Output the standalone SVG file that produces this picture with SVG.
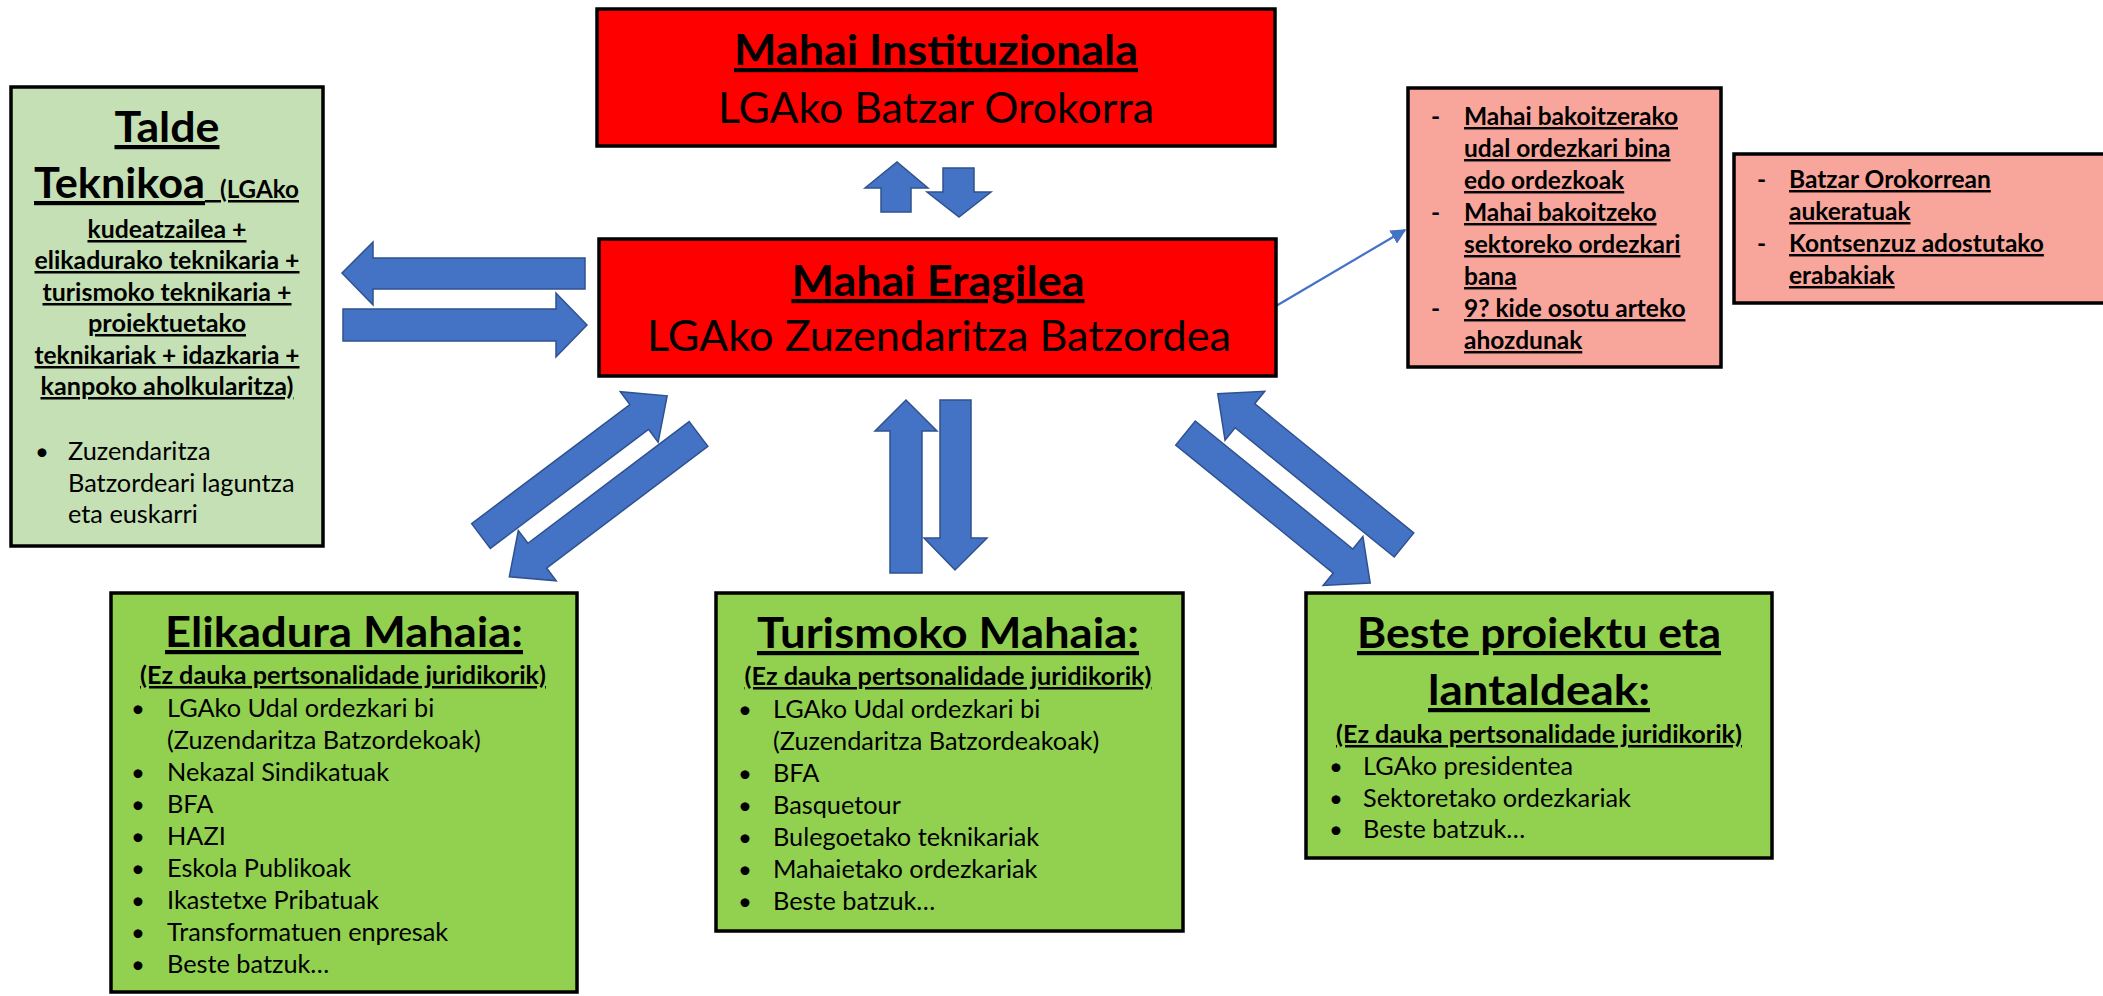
<svg xmlns="http://www.w3.org/2000/svg" width="2103" height="996" viewBox="0 0 2103 996">
<style>
.box{stroke:#000;stroke-width:3.5}
.red{fill:#FF0000}
.lg{fill:#C5E0B4}
.g{fill:#92D050}
.pk{fill:#F8A59B}
text{font-family:Lato,"Liberation Sans",sans-serif;fill:#000}
.h{font-weight:bold;font-size:42px;text-decoration:underline}
.r{font-size:42px}
.s{font-weight:bold;font-size:25px;text-decoration:underline}
.p{font-weight:bold;font-size:24.5px;text-decoration:underline}
.b{font-size:25.3px}
.dot{font-size:24px}
.arr{fill:#4472C4;stroke:#2F528F;stroke-width:1.5}
.thin{stroke:#4472C4;stroke-width:2.2;fill:none}
</style>
<defs>
<marker id="ah" viewBox="0 0 10 10" refX="9" refY="5" markerWidth="7" markerHeight="7" markerUnits="strokeWidth" orient="auto">
<path d="M0,0 L10,5 L0,10 z" fill="#4472C4"/>
</marker>
</defs>

<g id="connectors">
<polygon class="arr" points="585,258 373,258 373,242 342,273 373,305 373,289 585,289"/>
<polygon class="arr" points="343,309 556,309 556,293 587,325 556,357 556,341 343,341"/>
<polygon class="arr" points="881,212 881,188 865,188 897,162 928,188 911,188 911,212"/>
<polygon class="arr" points="943,168 974,168 974,192 991,192 959,217 927,192 943,192"/>
<polygon class="arr" points="890,573 890,431 875,431 906,400 937,431 922,431 922,573"/>
<polygon class="arr" points="940,400 971,400 971,538 987,538 955,570 924,538 940,538"/>
<polygon class="arr" transform="translate(481,536) rotate(-36.97)" points="0,-15.5 198,-15.5 198,-31.5 233,0 198,31.5 198,15.5 0,15.5"/>
<polygon class="arr" transform="translate(698.5,434) rotate(142.96)" points="0,-15.5 202,-15.5 202,-31.5 237,0 202,31.5 202,15.5 0,15.5"/>
<polygon class="arr" transform="translate(1185.5,433) rotate(39.1)" points="0,-15.5 203,-15.5 203,-31.5 238,0 203,31.5 203,15.5 0,15.5"/>
<polygon class="arr" transform="translate(1404,545) rotate(-140.9)" points="0,-15.5 205,-15.5 205,-31.5 240,0 205,31.5 205,15.5 0,15.5"/>
<path class="thin" d="M1276,306 L1405,230" marker-end="url(#ah)"/>
</g>

<g id="mahai-instituzionala">
<rect class="box red" x="597" y="9" width="678" height="137"/>
<text class="h" x="936" y="65" text-anchor="middle" textLength="404" lengthAdjust="spacingAndGlyphs">Mahai Instituzionala</text>
<text class="r" x="936" y="123" text-anchor="middle" textLength="436" lengthAdjust="spacingAndGlyphs">LGAko Batzar Orokorra</text>
</g>

<g id="mahai-eragilea">
<rect class="box red" x="599" y="239" width="677" height="137"/>
<text class="h" x="938" y="296" text-anchor="middle" textLength="293" lengthAdjust="spacingAndGlyphs">Mahai Eragilea</text>
<text class="r" x="939" y="351" text-anchor="middle" textLength="584" lengthAdjust="spacingAndGlyphs">LGAko Zuzendaritza Batzordea</text>
</g>

<g id="talde-teknikoa">
<rect class="box lg" x="11" y="87" width="312" height="459"/>
<text class="h" x="167" y="142" text-anchor="middle" textLength="105" lengthAdjust="spacingAndGlyphs">Talde</text>
<text x="34" y="198" style="text-decoration:underline;font-weight:bold"><tspan font-size="42" textLength="171" lengthAdjust="spacingAndGlyphs">Teknikoa</tspan><tspan font-size="25" textLength="15" lengthAdjust="spacingAndGlyphs"> </tspan><tspan font-size="25" textLength="79" lengthAdjust="spacingAndGlyphs">(LGAko</tspan></text>
<text class="s" x="167" y="238" text-anchor="middle" textLength="159" lengthAdjust="spacingAndGlyphs">kudeatzailea +</text>
<text class="s" x="167" y="269" text-anchor="middle" textLength="265" lengthAdjust="spacingAndGlyphs">elikadurako teknikaria +</text>
<text class="s" x="167" y="301" text-anchor="middle" textLength="249" lengthAdjust="spacingAndGlyphs">turismoko teknikaria +</text>
<text class="s" x="167" y="332" text-anchor="middle" textLength="158" lengthAdjust="spacingAndGlyphs">proiektuetako</text>
<text class="s" x="167" y="364" text-anchor="middle" textLength="265" lengthAdjust="spacingAndGlyphs">teknikariak + idazkaria +</text>
<text class="s" x="167" y="395" text-anchor="middle" textLength="253" lengthAdjust="spacingAndGlyphs">kanpoko aholkularitza)</text>
<text class="dot" x="35" y="460">•</text>
<text class="b" x="68" y="460">Zuzendaritza</text>
<text class="b" x="68" y="492">Batzordeari laguntza</text>
<text class="b" x="68" y="523">eta euskarri</text>
</g>

<g id="ordezkariak">
<rect class="box pk" x="1408" y="88" width="313" height="279"/>
<text class="p" x="1431" y="125" style="text-decoration:none">-</text>
<text class="p" x="1464" y="125">Mahai bakoitzerako</text>
<text class="p" x="1464" y="157">udal ordezkari bina</text>
<text class="p" x="1464" y="189">edo ordezkoak</text>
<text class="p" x="1431" y="221" style="text-decoration:none">-</text>
<text class="p" x="1464" y="221">Mahai bakoitzeko</text>
<text class="p" x="1464" y="253">sektoreko ordezkari</text>
<text class="p" x="1464" y="285">bana</text>
<text class="p" x="1431" y="317" style="text-decoration:none">-</text>
<text class="p" x="1464" y="317">9? kide osotu arteko</text>
<text class="p" x="1464" y="349">ahozdunak</text>
</g>

<g id="batzar-orokorra">
<rect class="box pk" x="1734" y="154" width="380" height="149"/>
<text class="p" x="1757" y="188" style="text-decoration:none">-</text>
<text class="p" x="1789" y="188">Batzar Orokorrean</text>
<text class="p" x="1789" y="220">aukeratuak</text>
<text class="p" x="1757" y="252" style="text-decoration:none">-</text>
<text class="p" x="1789" y="252">Kontsenzuz adostutako</text>
<text class="p" x="1789" y="284">erabakiak</text>
</g>

<g id="elikadura-mahaia">
<rect class="box g" x="111" y="593" width="466" height="399"/>
<text class="h" x="344" y="647" text-anchor="middle" textLength="358" lengthAdjust="spacingAndGlyphs">Elikadura Mahaia:</text>
<text class="s" x="343" y="684" text-anchor="middle" textLength="406" lengthAdjust="spacingAndGlyphs">(Ez dauka pertsonalidade juridikorik)</text>
<text class="dot" x="131" y="717">•</text><text class="b" x="167" y="717">LGAko Udal ordezkari bi</text>
<text class="b" x="167" y="749">(Zuzendaritza Batzordekoak)</text>
<text class="dot" x="131" y="781">•</text><text class="b" x="167" y="781">Nekazal Sindikatuak</text>
<text class="dot" x="131" y="813">•</text><text class="b" x="167" y="813">BFA</text>
<text class="dot" x="131" y="845">•</text><text class="b" x="167" y="845">HAZI</text>
<text class="dot" x="131" y="877">•</text><text class="b" x="167" y="877">Eskola Publikoak</text>
<text class="dot" x="131" y="909">•</text><text class="b" x="167" y="909">Ikastetxe Pribatuak</text>
<text class="dot" x="131" y="941">•</text><text class="b" x="167" y="941">Transformatuen enpresak</text>
<text class="dot" x="131" y="973">•</text><text class="b" x="167" y="973">Beste batzuk…</text>
</g>

<g id="turismoko-mahaia">
<rect class="box g" x="716" y="593" width="467" height="338"/>
<text class="h" x="948" y="648" text-anchor="middle" textLength="382" lengthAdjust="spacingAndGlyphs">Turismoko Mahaia:</text>
<text class="s" x="948" y="685" text-anchor="middle" textLength="407" lengthAdjust="spacingAndGlyphs">(Ez dauka pertsonalidade juridikorik)</text>
<text class="dot" x="738" y="718">•</text><text class="b" x="773" y="718">LGAko Udal ordezkari bi</text>
<text class="b" x="773" y="750">(Zuzendaritza Batzordeakoak)</text>
<text class="dot" x="738" y="782">•</text><text class="b" x="773" y="782">BFA</text>
<text class="dot" x="738" y="814">•</text><text class="b" x="773" y="814">Basquetour</text>
<text class="dot" x="738" y="846">•</text><text class="b" x="773" y="846">Bulegoetako teknikariak</text>
<text class="dot" x="738" y="878">•</text><text class="b" x="773" y="878">Mahaietako ordezkariak</text>
<text class="dot" x="738" y="910">•</text><text class="b" x="773" y="910">Beste batzuk…</text>
</g>

<g id="beste-proiektu">
<rect class="box g" x="1306" y="593" width="466" height="265"/>
<text class="h" x="1539" y="648" text-anchor="middle" textLength="364" lengthAdjust="spacingAndGlyphs">Beste proiektu eta</text>
<text class="h" x="1539" y="705" text-anchor="middle" textLength="222" lengthAdjust="spacingAndGlyphs">lantaldeak:</text>
<text class="s" x="1539" y="743" text-anchor="middle" textLength="406" lengthAdjust="spacingAndGlyphs">(Ez dauka pertsonalidade juridikorik)</text>
<text class="dot" x="1329" y="775">•</text><text class="b" x="1363" y="775">LGAko presidentea</text>
<text class="dot" x="1329" y="807">•</text><text class="b" x="1363" y="807">Sektoretako ordezkariak</text>
<text class="dot" x="1329" y="838">•</text><text class="b" x="1363" y="838">Beste batzuk…</text>
</g>
</svg>
